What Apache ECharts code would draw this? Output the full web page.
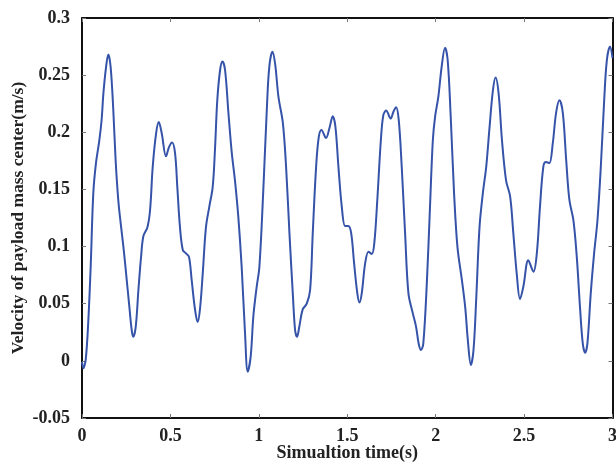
<!DOCTYPE html>
<html><head><meta charset="utf-8">
<script src="https://cdn.jsdelivr.net/npm/echarts@6/dist/echarts.min.js"></script>
<style>html,body{margin:0;padding:0;background:#fff}#c{width:616px;height:462px}</style>
</head><body><div id="c"></div>
<script>
const timeS = [0,0.007,0.021,0.036,0.049,0.064,0.079,0.098,0.111,0.121,0.136,0.149,0.162,0.177,0.190,0.205,0.219,0.234,0.249,0.268,0.281,0.290,0.304,0.319,0.334,0.347,0.370,0.385,0.400,0.419,0.434,0.451,0.475,0.492,0.509,0.526,0.539,0.554,0.570,0.588,0.605,0.620,0.639,0.654,0.667,0.683,0.701,0.720,0.739,0.752,0.765,0.781,0.794,0.809,0.828,0.847,0.865,0.884,0.903,0.922,0.937,0.954,0.969,0.988,1.003,1.024,1.045,1.059,1.077,1.092,1.111,1.136,1.154,1.173,1.192,1.205,1.216,1.229,1.248,1.271,1.290,1.305,1.324,1.339,1.354,1.380,1.399,1.418,1.433,1.450,1.469,1.488,1.506,1.522,1.539,1.557,1.569,1.582,1.601,1.620,1.639,1.653,1.670,1.690,1.704,1.720,1.746,1.761,1.776,1.791,1.808,1.827,1.846,1.870,1.889,1.904,1.917,1.930,1.950,1.968,1.984,1.997,2.015,2.034,2.053,2.068,2.085,2.104,2.123,2.148,2.167,2.182,2.199,2.214,2.229,2.248,2.267,2.286,2.305,2.324,2.339,2.356,2.375,2.398,2.421,2.439,2.458,2.477,2.496,2.524,2.553,2.572,2.590,2.609,2.624,2.643,2.662,2.681,2.700,2.719,2.738,2.756,2.779,2.798,2.817,2.832,2.845,2.858,2.877,2.896,2.915,2.934,2.953,2.968,2.986,3.0];
const velocity = [-0.001,-0.0065,0.001,0.036,0.082,0.147,0.173,0.193,0.211,0.234,0.257,0.268,0.257,0.2195,0.176,0.141,0.120,0.100,0.077,0.047,0.027,0.021,0.030,0.062,0.091,0.109,0.117,0.132,0.170,0.199,0.209,0.199,0.179,0.187,0.191,0.182,0.152,0.117,0.097,0.094,0.091,0.071,0.045,0.034,0.045,0.077,0.117,0.135,0.152,0.185,0.228,0.2545,0.262,0.2545,0.217,0.182,0.158,0.126,0.082,0.024,-0.0095,0.004,0.039,0.065,0.082,0.145,0.2195,0.257,0.2705,0.260,0.231,0.208,0.170,0.112,0.059,0.027,0.021,0.030,0.045,0.050,0.062,0.112,0.170,0.196,0.202,0.195,0.2035,0.214,0.205,0.170,0.135,0.118,0.118,0.112,0.085,0.059,0.051,0.059,0.085,0.0955,0.0935,0.103,0.141,0.193,0.215,0.219,0.212,0.218,0.222,0.211,0.170,0.112,0.059,0.042,0.030,0.015,0.0095,0.015,0.068,0.135,0.193,0.214,0.231,0.2575,0.274,0.263,0.214,0.147,0.100,0.071,0.047,0.018,-0.0036,0.0095,0.053,0.117,0.147,0.170,0.205,0.237,0.248,0.234,0.193,0.158,0.144,0.112,0.077,0.054,0.065,0.088,0.078,0.094,0.135,0.170,0.174,0.173,0.190,0.217,0.228,0.217,0.176,0.141,0.123,0.091,0.045,0.015,0.007,0.015,0.059,0.094,0.123,0.170,0.228,0.263,0.275,0.265];
const xTicks = [0,0.5,1,1.5,2,2.5,3];
const yTicks = [-0.05,0,0.05,0.1,0.15,0.2,0.25,0.3];

const font = '"Liberation Serif","Times New Roman",serif';
const pts = timeS.map((t,i)=>[t,velocity[i]]);
const fmt = v => String(Math.round(v*100)/100);
const chart = echarts.init(document.getElementById('c'));
const tickStyle = {show:true, inside:true, length:4, lineStyle:{color:'#777', width:1}};
chart.setOption({
  animation:false,
  backgroundColor:'#fff',
  grid:{left:82, top:18, right:3.5, bottom:44, show:false, containLabel:false, outerBoundsMode:'none'},
  xAxis:[{
    type:'value', min:0, max:3, interval:0.5,
    name:'Simualtion time(s)', nameLocation:'middle', nameGap:26, nameMoveOverlap:false,
    nameTextStyle:{fontFamily:font, fontWeight:'bold', fontSize:18, color:'#222'},
    axisLine:{show:true, onZero:false, lineStyle:{color:'#111', width:2}},
    axisTick:tickStyle,
    axisLabel:{fontFamily:font, fontWeight:'bold', fontSize:18, color:'#222', margin:9, formatter:fmt},
    splitLine:{show:false}
  },{
    type:'value', min:0, max:3, interval:0.5, position:'top',
    axisLine:{show:true, onZero:false, lineStyle:{color:'#111', width:2}},
    axisTick:tickStyle, axisLabel:{show:false}, splitLine:{show:false}
  }],
  yAxis:[{
    type:'value', min:-0.05, max:0.3, interval:0.05,
    name:'Velocity of payload mass center(m/s)', nameLocation:'middle', nameGap:55, nameMoveOverlap:false,
    nameTextStyle:{fontFamily:font, fontWeight:'bold', fontSize:17.5, color:'#222'},
    axisLine:{show:true, onZero:false, lineStyle:{color:'#111', width:2}},
    axisTick:tickStyle,
    axisLabel:{fontFamily:font, fontWeight:'bold', fontSize:18, color:'#222', margin:12, formatter:fmt},
    splitLine:{show:false}
  },{
    type:'value', min:-0.05, max:0.3, interval:0.05, position:'right',
    axisLine:{show:true, onZero:false, lineStyle:{color:'#111', width:2}},
    axisTick:tickStyle, axisLabel:{show:false}, splitLine:{show:false}
  }],
  series:[{
    type:'line', data:pts, showSymbol:false, smooth:0.35,
    lineStyle:{color:'#3553a8', width:2}, clip:true
  }]
});
</script></body></html>
